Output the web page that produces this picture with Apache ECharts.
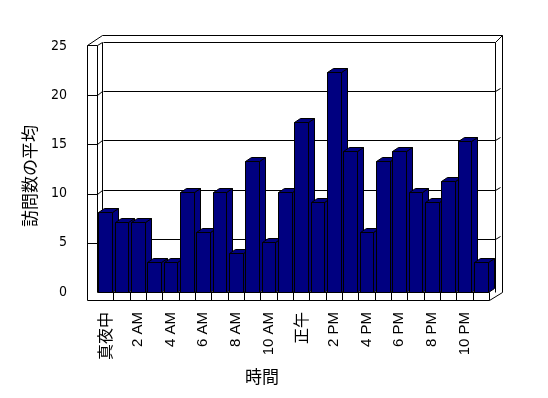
<!DOCTYPE html>
<html><head><meta charset="utf-8">
<script src="https://cdn.jsdelivr.net/npm/echarts@6/dist/echarts.min.js"></script>
<style>html,body{margin:0;padding:0;background:#fff}#c{width:548px;height:398px}</style>
</head><body><div id="c"></div>
<script>
// ---- data ----
const hours = ['真夜中','1 AM','2 AM','3 AM','4 AM','5 AM','6 AM','7 AM','8 AM','9 AM','10 AM','11 AM',
               '正午','1 PM','2 PM','3 PM','4 PM','5 PM','6 PM','7 PM','8 PM','9 PM','10 PM','11 PM'];
const avgVisits = [8.1, 7.1, 7.1, 3, 3, 10.2, 6.1, 10.2, 4, 13.3, 5.1, 10.2,
                   17.3, 9.1, 22.4, 14.3, 6.1, 13.3, 14.3, 10.2, 9.1, 11.3, 15.3, 3];
const yTicks = [0, 5, 10, 15, 20, 25];
const xTitle = '時間';
const yTitle = '訪問数の平均';

// ---- layout ----
const DX = 6, DY = 4;               // depth offset front -> back
const BACK = {left: 103, top: 42, width: 392, height: 246};
const FRONT = {left: BACK.left - DX, top: BACK.top + DY, width: BACK.width, height: BACK.height};
const NAVY = '#000080';
const LATIN = '"Liberation Sans", Arial, sans-serif';
const CJK = '"Noto Sans CJK JP", sans-serif';
const px = v => Math.round(v) + 0.5;

const chart = echarts.init(document.getElementById('c'), null, {renderer: 'canvas'});

function seg(x1, y1, x2, y2) {
  return {type: 'line', shape: {x1: x1, y1: y1, x2: x2, y2: y2},
          style: {stroke: '#000', lineWidth: 1, fill: null}, silent: true};
}

function renderBox(params, api) {
  const band = api.size([1, 0])[0];
  const L = px(api.coord([0, 0])[0] - band / 2);
  const R = px(api.coord([hours.length - 1, 0])[0] + band / 2);
  const P = v => px(api.coord([0, v])[1]);
  const yMax = yTicks[yTicks.length - 1];
  const top = P(yMax), bot = P(0);
  const fL = L - DX, fR = R - DX;           // front plane x extents
  const fBot = bot + DY;                    // front floor edge
  const floorB = fBot + 8;                  // bottom of floor slab
  const outL = fL - 10;                     // outer left of left wall
  const outT = top - 7, outR = R + 7;
  const c = [];
  yTicks.forEach(v => { if (v > 0) c.push(seg(L, P(v), R, P(v))); });
  c.push(seg(R, top, R, fBot));
  c.push(seg(L - 1, outT, outR, outT));
  c.push(seg(outR, outT, outR, fBot));
  c.push(seg(R, top, outR, outT));
  yTicks.forEach(v => { if (v > 0 && v < yMax) c.push(seg(R, P(v), R + 5, P(v) - 3)); });
  c.push(seg(L - 1, top, L - 1, bot));
  c.push(seg(fL, top + DY - 1, fL, fBot));
  c.push(seg(outL, top + DY - 1, outL, floorB));
  c.push(seg(outL, top + DY - 1, fL, top + DY - 1));
  c.push(seg(outL, top + DY - 1, L - 1, outT));
  c.push(seg(fL, top + DY - 1, L - 1, top));
  yTicks.forEach(v => {
    if (v > 0 && v < yMax) {
      c.push(seg(outL, P(v) + DY, fL, P(v) + DY));
      c.push(seg(fL, P(v) + DY, L - 1, P(v)));
    }
  });
  c.push(seg(fL, fBot, fR, fBot));
  c.push(seg(outL, floorB, fR, floorB));
  c.push(seg(fR, fBot, fR, floorB));
  c.push(seg(fR, floorB, outR, fBot));
  for (let k = 1; k < hours.length; k++) {
    const x = px(api.coord([k, 0])[0] - band / 2 - DX);
    c.push(seg(x, fBot, x, floorB));
  }
  return {type: 'group', children: c};
}

function renderBar(params, api) {
  const i = api.value(0), v = api.value(1);
  const band = api.size([1, 0])[0];
  const w = band * 0.82;
  const cx = api.coord([i, 0])[0];
  const x0 = px(cx - w / 2), x1 = px(cx + w / 2);
  const yb = px(api.coord([i, 0])[1]);
  const yt = px(api.coord([i, v])[1]);
  const st = {fill: NAVY, stroke: '#000', lineWidth: 1};
  return {type: 'group', children: [
    {type: 'polygon', shape: {points: [[x1, yt], [x1 + DX, yt - DY], [x1 + DX, yb - DY], [x1, yb]]}, style: st},
    {type: 'polygon', shape: {points: [[x0, yt], [x0 + DX, yt - DY], [x1 + DX, yt - DY], [x1, yt]]}, style: st},
    {type: 'rect', shape: {x: x0, y: yt, width: x1 - x0, height: yb - yt}, style: st}
  ]};
}

const yAxisBase = {type: 'value', min: yTicks[0], max: yTicks[yTicks.length - 1], interval: yTicks[1] - yTicks[0],
                   axisLine: {show: false}, axisTick: {show: false}, splitLine: {show: false}};

chart.setOption({
  animation: false,
  backgroundColor: '#fff',
  grid: [
    Object.assign({}, BACK, {containLabel: false}),
    Object.assign({}, FRONT, {containLabel: false})
  ],
  xAxis: [
    {type: 'category', data: hours, gridIndex: 0, show: false},
    {type: 'category', data: hours, gridIndex: 1,
     axisLine: {show: false}, axisTick: {show: false}, splitLine: {show: false},
     axisLabel: {interval: 1, rotate: 90, margin: 20, color: '#000', fontSize: 15, fontFamily: LATIN,
                 formatter: v => /[^\x00-\x7f]/.test(v) ? '{c|' + v + '}' : v,
                 rich: {c: {fontSize: 16, fontFamily: CJK, color: '#000'}}}}
  ],
  yAxis: [
    Object.assign({}, yAxisBase, {gridIndex: 0, axisLabel: {show: false}}),
    Object.assign({}, yAxisBase, {gridIndex: 1,
      axisLabel: {margin: 30, color: '#000', fontSize: 14,
                  fontFamily: '"Liberation Sans Narrow", "Arial Narrow", "DejaVu Sans Condensed", "Liberation Sans", sans-serif'}})
  ],
  graphic: [
    {type: 'text', x: 262, y: 377, silent: true,
     style: {text: xTitle, fill: '#000', font: '17px ' + CJK, textAlign: 'center', textVerticalAlign: 'middle'}},
    {type: 'text', x: 30, y: 176, rotation: Math.PI / 2, silent: true,
     style: {text: yTitle, fill: '#000', font: '17px ' + CJK, textAlign: 'center', textVerticalAlign: 'middle'}}
  ],
  series: [
    {type: 'custom', xAxisIndex: 0, yAxisIndex: 0, z: 1, data: [[0, 0]], renderItem: renderBox, silent: true},
    {type: 'custom', xAxisIndex: 1, yAxisIndex: 1, z: 2, data: avgVisits.map((v, i) => [i, v]),
     encode: {x: 0, y: 1}, renderItem: renderBar, silent: true}
  ]
});
</script>
</body></html>
